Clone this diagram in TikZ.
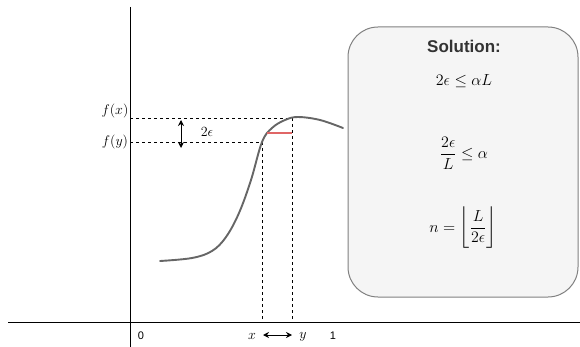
\RequirePackage{fix-cm}
\documentclass[tikz,border=0pt]{standalone}
\usepackage{amsmath}
\usepackage{fontspec}
\setsansfont{Liberation Sans}
\usetikzlibrary{arrows.meta,positioning,calc}
\definecolor{curvegray}{HTML}{666666}
\definecolor{boxfill}{HTML}{F5F5F5}
\definecolor{boxline}{HTML}{808080}
\definecolor{gapred}{HTML}{E06666}
\tikzset{
  axis/.style={line width=0.9pt, draw=black},
  curve/.style={line width=1.9pt, draw=curvegray, line cap=round},
  guide/.style={line width=0.8pt, draw=black, dash pattern=on 3pt off 3pt},
  gap/.style={line width=1.8pt, draw=gapred},
  dblarrow/.style={{Stealth[length=6pt,width=6pt]}-{Stealth[length=6pt,width=6pt]}, line width=1pt, draw=black},
  mlabel/.style={font=\fontsize{14}{16}\selectfont, inner sep=1pt},
  tick/.style={font=\sffamily\fontsize{11}{13}\selectfont, inner sep=1pt},
  solbox/.style={rectangle, rounded corners=30pt, draw=boxline, fill=boxfill, line width=1pt,
    minimum width=230pt, minimum height=270pt},
  soltitle/.style={font=\sffamily\bfseries\fontsize{17}{19}\selectfont, text=black!80},
  solmath/.style={font=\fontsize{16}{19}\selectfont}
}

\begin{document}
\begin{tikzpicture}[x=1pt,y=-1pt]
\useasboundingbox (0,0) rectangle (580,347);
% axes
\coordinate (xleft) at (8,322);
\coordinate (xright) at (580,322);
\coordinate (ytop) at (130,7);
\coordinate (ybot) at (130,347);
\draw[axis] (xleft) -- (xright);
\draw[axis] (ytop) -- (ybot);
\node[tick] (zero) at (141,336) {0};
\node[tick] (one) at (333,336) {1};
% points on the curve
\coordinate (fxpt) at (292,118);
\coordinate (fypt) at (262,142);
\coordinate (fxaxis) at (130,118);
\coordinate (fyaxis) at (130,142);
\coordinate (xfoot) at (262,322);
\coordinate (yfoot) at (292,322);
\draw[guide] (fxaxis) -- (fxpt) -- (yfoot);
\draw[guide] (fyaxis) -- (fypt) -- (xfoot);
% the function
\draw[curve] plot[smooth, tension=0.6] coordinates {(160,261) (192,258) (212,251) (226,237) (239,213) (251,180) (262,142) (272,128) (285,120) (298,117) (320,120) (343,128)};
\coordinate (gapleft) at (267,133);
\coordinate (gapright) at (292,133);
\draw[gap] (gapleft) -- (gapright);
% labels on the axes
\node[mlabel] (fxlab) at (115,111) {$f(x)$};
\node[mlabel] (fylab) at (115,142) {$f(y)$};
\coordinate (epstop) at (181,120);
\coordinate (epsbot) at (181,148);
\draw[dblarrow] (epstop) -- (epsbot);
\node[mlabel] (eps) at (207,132) {$2\epsilon$};
\node[mlabel] (xlab) at (252,336) {$x$};
\node[mlabel] (ylab) at (303,337) {$y$};
\coordinate (xyleft) at (263,335);
\coordinate (xyright) at (292,335);
\draw[dblarrow] (xyleft) -- (xyright);
% solution box
\node[solbox] (sol) at (463,162) {};
\node[soltitle] (soltitle) at (464,46) {Solution:};
\node[solmath] (step1) at (464,81) {$2\epsilon \leq \alpha L$};
\node[solmath] (step2) at (464,153) {$\dfrac{2\epsilon}{L} \leq \alpha$};
\node[solmath] (step3) at (463,228) {$n = \left\lfloor \dfrac{L}{2\epsilon} \right\rfloor$};
\end{tikzpicture}
\end{document}
